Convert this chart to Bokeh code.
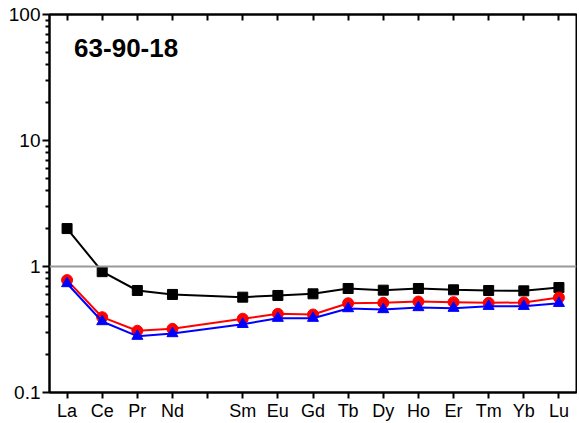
from bokeh.plotting import figure
from bokeh.models import Range1d, FixedTicker, LinearAxis, Span, Label
from bokeh.embed import file_html
from bokeh.resources import INLINE

elements = ["La", "Ce", "Pr", "Nd", "Pm", "Sm", "Eu", "Gd", "Tb", "Dy", "Ho", "Er", "Tm", "Yb", "Lu"]
plot_elements = ["La", "Ce", "Pr", "Nd", "Sm", "Eu", "Gd", "Tb", "Dy", "Ho", "Er", "Tm", "Yb", "Lu"]
series_black = [2.0, 0.91, 0.645, 0.60, 0.571, 0.589, 0.607, 0.669, 0.649, 0.669, 0.653, 0.645, 0.641, 0.681]
series_red = [0.78, 0.396, 0.309, 0.32, 0.385, 0.421, 0.416, 0.511, 0.515, 0.527, 0.521, 0.515, 0.518, 0.567]
series_blue = [0.733, 0.366, 0.28, 0.294, 0.348, 0.389, 0.389, 0.464, 0.456, 0.473, 0.467, 0.484, 0.484, 0.511]
y_ticks = [0.1, 1, 10, 100]
y_tick_labels = ["0.1", "1", "10", "100"]
title_text = "63-90-18"

x_pos = [elements.index(e) + 1 for e in plot_elements]
all_ticks = list(range(1, len(elements) + 1))
label_ticks = [elements.index(e) + 1 for e in plot_elements]
blank_ticks = [i + 1 for i, e in enumerate(elements) if e not in plot_elements]

p = figure(frame_width=527, frame_height=378, x_range=Range1d(0.5, len(elements) + 0.5),
           y_range=Range1d(0.1, 100), y_axis_type="log",
           output_backend="svg", toolbar_location=None)
p.min_border_top = 14
p.min_border_right = 1
p.min_border_left = 49
p.min_border_bottom = 0
p.xgrid.visible = False
p.ygrid.visible = False
p.outline_line_color = "black"
p.outline_line_width = 2
p.background_fill_color = "white"
p.border_fill_color = "white"

# bottom axis (Pm position gets a tick but no label)
xa = p.xaxis[0]
xa.ticker = FixedTicker(ticks=label_ticks, minor_ticks=blank_ticks)
xa.major_label_overrides = {t: e for t, e in zip(label_ticks, plot_elements)}
xa.major_label_text_font = "Liberation Sans"
xa.major_label_text_font_size = "18px"
xa.major_label_text_color = "black"
xa.major_tick_in = 0
xa.major_tick_out = 6
xa.minor_tick_in = 0
xa.minor_tick_out = 6
xa.major_tick_line_width = 2
xa.minor_tick_line_width = 2
xa.minor_tick_line_color = "black"
xa.axis_line_width = 2
xa.major_label_standoff = 2

# left axis
ya = p.yaxis[0]
minor = []
for d in [0.1, 1, 10]:
    minor += [d * k for k in range(2, 10)]
ya.ticker = FixedTicker(ticks=y_ticks, minor_ticks=minor)
ya.major_label_overrides = {t: l for t, l in zip(y_ticks, y_tick_labels)}
ya.major_label_text_font = "Liberation Sans"
ya.major_label_text_font_size = "19px"
ya.major_label_text_color = "black"
ya.major_tick_in = 0
ya.major_tick_out = 7
ya.minor_tick_in = 0
ya.minor_tick_out = 4
ya.major_tick_line_width = 2
ya.minor_tick_line_width = 2
ya.axis_line_width = 2
ya.major_label_standoff = 2

# top axis: inner ticks only (as minor ticks, so no labels are drawn)
top = LinearAxis(ticker=FixedTicker(ticks=[], minor_ticks=all_ticks),
                 minor_tick_in=6, minor_tick_out=0, minor_tick_line_width=2,
                 minor_tick_line_color="black", major_tick_line_color=None,
                 axis_line_width=2, major_label_standoff=0)
p.add_layout(top, "above")

p.add_layout(Span(location=1, dimension="width", line_color="#999999", line_width=2))

p.line(x_pos, series_black, line_color="black", line_width=2)
p.scatter(x_pos, series_black, marker="square", size=10, fill_color="black", line_color="black")
p.line(x_pos, series_red, line_color="#ff0000", line_width=2)
p.scatter(x_pos, series_red, marker="circle", size=11, fill_color="#ff0000", line_color="#ff0000")
p.line(x_pos, series_blue, line_color="#0000ff", line_width=2)
p.scatter(x_pos, series_blue, marker="triangle", size=11, fill_color="#0000ff", line_color="#0000ff")

p.add_layout(Label(x=1.2, y=54.0, text=title_text, text_font="Liberation Sans",
                   text_font_size="26px", text_font_style="bold", text_color="black",
                   text_baseline="alphabetic"))

open("out.html", "w").write(file_html(p, INLINE))
